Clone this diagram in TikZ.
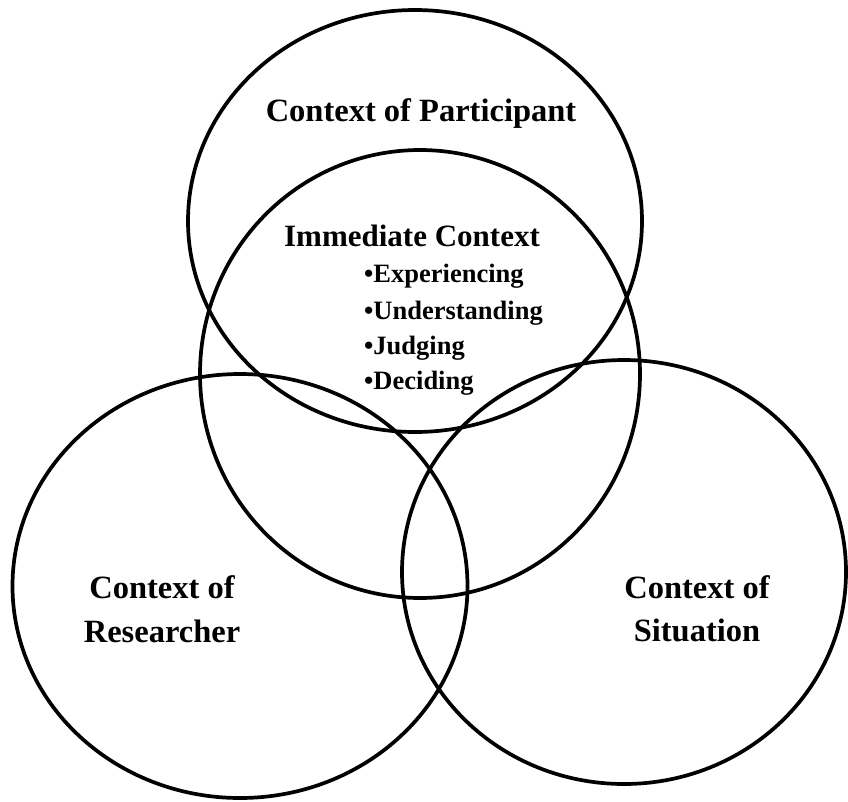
\documentclass[tikz,border=0pt]{standalone}
\usepackage{fontspec}
\setmainfont{Liberation Serif}
\usetikzlibrary{shapes.geometric}
\begin{document}
\begin{tikzpicture}[x=1pt,y=-1pt,
  ring/.style={draw=black,ellipse,line width=3.7pt,inner sep=0pt},
  big/.style={font=\fontsize{32.5}{36}\selectfont\bfseries,inner sep=0pt,anchor=base},
  mid/.style={font=\fontsize{31}{34}\selectfont\bfseries,inner sep=0pt,anchor=base},
  item/.style={font=\fontsize{26.5}{29}\selectfont\bfseries,inner sep=0pt,anchor=base west}]
\useasboundingbox (0,0) rectangle (848,801);
\node[ring,minimum width=454pt,minimum height=422pt] (part) at (415,221) {};
\node[ring,minimum width=440pt,minimum height=448pt] (imm) at (420,374) {};
\node[ring,minimum width=455pt,minimum height=424pt] (res) at (240,586) {};
\node[ring,minimum width=444pt,minimum height=424pt] (sit) at (624,572) {};
\node[big] (tpart) at (421,121) {Context of Participant};
\node[mid] (timm) at (412,246) {Immediate Context};
\node[item] (i1) at (364,282) {\textbullet Experiencing};
\node[item] (i2) at (364,319) {\textbullet Understanding};
\node[item] (i3) at (364,354) {\textbullet Judging};
\node[item] (i4) at (364,389) {\textbullet Deciding};
\node[big] (tres1) at (162,598) {Context of};
\node[big] (tres2) at (162,642) {Researcher};
\node[big] (tsit1) at (697,598) {Context of};
\node[big] (tsit2) at (697,641) {Situation};
\end{tikzpicture}
\end{document}
